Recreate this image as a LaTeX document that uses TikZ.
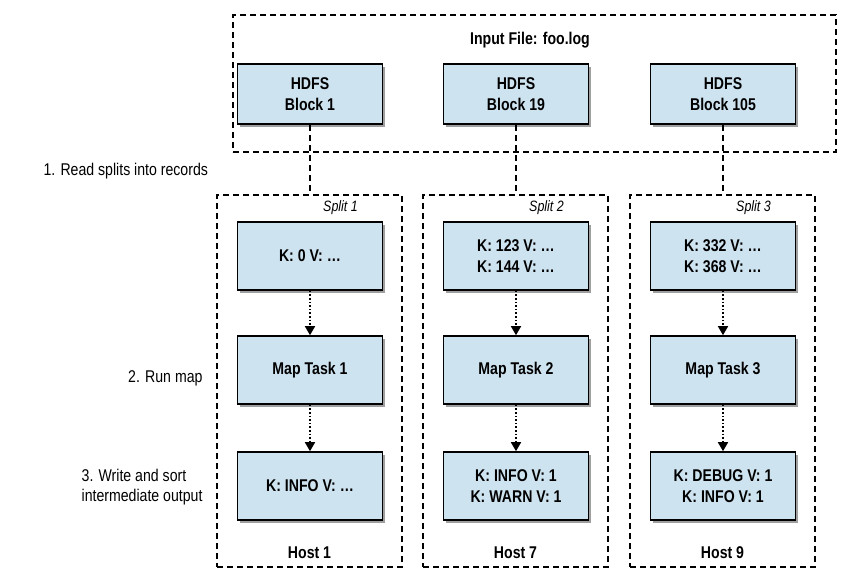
\documentclass[tikz,border=0pt]{standalone}
\usepackage{fontspec}
\setmainfont{Liberation Sans}[FakeStretch=0.83]
\usetikzlibrary{arrows.meta,shadows}
\definecolor{boxblue}{RGB}{206,227,240}
\begin{document}
\begin{tikzpicture}[x=1pt,y=-1pt,
    every node/.style={font=\fontsize{17}{20}\selectfont},
    blockbox/.style={draw,line width=1.6pt,fill=boxblue,minimum width=145pt,minimum height=68pt,align=center,
      font=\fontsize{17}{21}\selectfont\bfseries,drop shadow={shadow xshift=2.5pt,shadow yshift=-3pt,opacity=.75}},
    framebox/.style={draw,line width=1.3pt,dash pattern=on 6pt off 4pt},
    hostbox/.style={framebox,minimum width=185pt,minimum height=372pt},
    splitlab/.style={font=\fontsize{15}{17}\selectfont\itshape},
    hostlab/.style={font=\fontsize{17}{20}\selectfont\bfseries},
    flow/.style={dotted,line width=1.6pt,-{Triangle[length=9pt,width=10pt]}}]
  \useasboundingbox [fill=white] (0,0) rectangle (854,587);
  % input file
  \node[framebox,minimum width=603pt,minimum height=137pt] (file) at (534.5,83.5) {};
  \node[hostlab] (filelab) at (530,40) {Input File: foo.log};
  \node[blockbox,minimum height=60pt] (blk1) at (310,94) {HDFS\\Block 1};
  \node[blockbox,minimum height=60pt] (blk19) at (516,94) {HDFS\\Block 19};
  \node[blockbox,minimum height=60pt] (blk105) at (723,94) {HDFS\\Block 105};
  % hosts
  \foreach \x/\n/\s in {309.5/1/1,515.5/7/2,722.5/9/3}{
    \node[hostbox] (host\n) at (\x,381) {};
    \node[splitlab] (split\s) at (\x+31,208) {Split \s};
    \node[hostlab] (hostlab\n) at (\x,553) {Host \n};
  }
  \draw[framebox] (blk1) -- (blk1 |- host1.north);
  \draw[framebox] (blk19) -- (blk19 |- host7.north);
  \draw[framebox] (blk105) -- (blk105 |- host9.north);
  % records
  \node[blockbox] (rec1) at (310,256) {K: 0 V: \dots};
  \node[blockbox] (rec2) at (516,256) {K: 123 V: \dots\\K: 144 V: \dots};
  \node[blockbox] (rec3) at (723,256) {K: 332 V: \dots\\K: 368 V: \dots};
  % map tasks
  \node[blockbox] (map1) at (310,370) {Map Task 1};
  \node[blockbox] (map2) at (516,370) {Map Task 2};
  \node[blockbox] (map3) at (723,370) {Map Task 3};
  % output
  \node[blockbox] (out1) at (310,486) {K: INFO V: \dots};
  \node[blockbox] (out2) at (516,486) {K: INFO V: 1\\K: WARN V: 1};
  \node[blockbox] (out3) at (723,486) {K: DEBUG V: 1\\K: INFO V: 1};
  \foreach \i in {1,2,3}{
    \draw[flow] (rec\i) -- (map\i);
    \draw[flow] (map\i) -- (out\i);
  }
  % steps
  \node[anchor=west] (step1) at (40,171) {1. Read splits into records};
  \node[anchor=east] (step2) at (206,378) {2. Run map};
  \node[anchor=east,align=left] (step3) at (206,487) {3. Write and sort\\intermediate output};
\end{tikzpicture}
\end{document}
